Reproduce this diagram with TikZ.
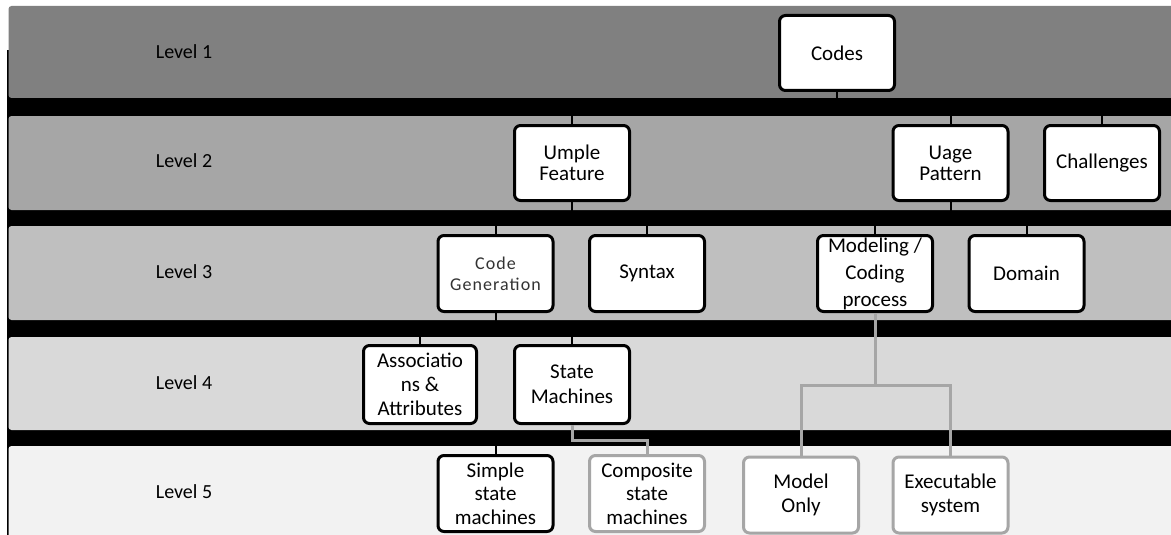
\documentclass[tikz,border=0pt]{standalone}
\usepackage{fontspec}
\setmainfont{Carlito}
\newfontfamily\spacedfont[LetterSpace=6]{Carlito}
\definecolor{bandA}{HTML}{808080}
\definecolor{bandB}{HTML}{A6A6A6}
\definecolor{bandC}{HTML}{BFBFBF}
\definecolor{bandD}{HTML}{D9D9D9}
\definecolor{bandE}{HTML}{F2F2F2}
\definecolor{boxgray}{HTML}{A6A6A6}
\begin{document}
\begin{tikzpicture}[x=1pt,y=-1pt,
  box/.style={draw=black,line width=3pt,rounded corners=6pt,fill=white,
    minimum width=115pt,minimum height=75pt,align=center,inner sep=0pt,
    font=\fontsize{21}{21}\selectfont},
  gbox/.style={box,draw=boxgray},
  lvl/.style={font=\fontsize{20}{24}\selectfont,anchor=center},
  band/.style={rounded corners=3pt},
  conn/.style={line width=2pt,draw=black},
  gconn/.style={line width=3pt,draw=boxgray}]
\useasboundingbox (0,0) rectangle (1171,535);
\begin{scope}
  \clip (0,0) rectangle (1171,535);
  \fill[black] (7,50) rectangle (1200,560);
  \fill[band,fill=bandA] (8.5,6) rectangle (1200,98);
  \fill[band,fill=bandB] (8.5,116) rectangle (1200,210);
  \fill[band,fill=bandC] (8.5,226) rectangle (1200,320);
  \fill[band,fill=bandD] (8.5,337) rectangle (1200,430);
  \fill[band,fill=bandE] (8.5,446) rectangle (1200,560);
\end{scope}
% level labels
\node[lvl] (l1) at (184,52) {Level 1};
\node[lvl] (l2) at (184,161) {Level 2};
\node[lvl] (l3) at (184,272) {Level 3};
\node[lvl] (l4) at (184,383) {Level 4};
\node[lvl] (l5) at (184,492) {Level 5};
% level 1
\node[box] (codes) at (837,53) {Codes};
% level 2
\node[box] (umple) at (572,163) {Umple\\Feature};
\node[box] (uage) at (950.5,163) {Uage\\Pattern};
\node[box] (chal) at (1102,163) {Challenges};
% level 3
\node[box,minimum height=76pt,font=\spacedfont\fontsize{18}{21}\selectfont,text=black!80] (codegen) at (495.5,273.5) {Code\\Generation};
\node[box,minimum height=76pt] (syntax) at (647,273.5) {Syntax};
\node[box,minimum height=76pt,font=\fontsize{21}{27}\selectfont] (model) at (875,273.5) {Modeling /\\Coding\\process};
\node[box,minimum height=76pt] (domain) at (1026.5,273.5) {Domain};
% level 4
\node[box,minimum width=113pt,minimum height=78pt,font=\fontsize{21}{24}\selectfont] (assoc) at (420,384.5) {Associatio\\ns \&\\Attributes};
\node[box,minimum height=78pt,font=\fontsize{21}{25}\selectfont] (state) at (572,384.5) {State\\Machines};
% level 5
\node[box,minimum height=76pt,font=\fontsize{21}{23.5}\selectfont] (simple) at (495.5,493.5) {Simple\\state\\machines};
\node[gbox,minimum height=76pt,font=\fontsize{21}{23.5}\selectfont] (comp) at (647,493.5) {Composite\\state\\machines};
\node[gbox,minimum height=76pt,font=\fontsize{21}{24}\selectfont] (monly) at (801,495) {Model\\Only};
\node[gbox,minimum height=76pt,font=\fontsize{21}{24}\selectfont] (exec) at (950.5,495) {Executable\\system};
% black connectors (horizontal parts hidden in black stripes)
\draw[conn] (codes.south) -- (codes.south |- 0,107) -| (umple.north);
\draw[conn] (codes.south) -- (codes.south |- 0,107) -| (uage.north);
\draw[conn] (codes.south) -- (codes.south |- 0,107) -| (chal.north);
\draw[conn] (umple.south) -- (umple.south |- 0,218) -| (codegen.north);
\draw[conn] (umple.south) -- (umple.south |- 0,218) -| (syntax.north);
\draw[conn] (uage.south) -- (uage.south |- 0,218) -| (model.north);
\draw[conn] (uage.south) -- (uage.south |- 0,218) -| (domain.north);
\draw[conn] (codegen.south) -- (codegen.south |- 0,328) -| (assoc.north);
\draw[conn] (codegen.south) -- (codegen.south |- 0,328) -| (state.north);
\draw[conn] (state.south) -- (state.south |- 0,438) -| (simple.north);
% grey connectors
\draw[gconn] (state.south) -- (state.south |- 0,440) -| (comp.north);
\draw[gconn] (model.south) -- (model.south |- 0,385) -| (monly.north);
\draw[gconn] (model.south) -- (model.south |- 0,385) -| (exec.north);
\end{tikzpicture}
\end{document}
